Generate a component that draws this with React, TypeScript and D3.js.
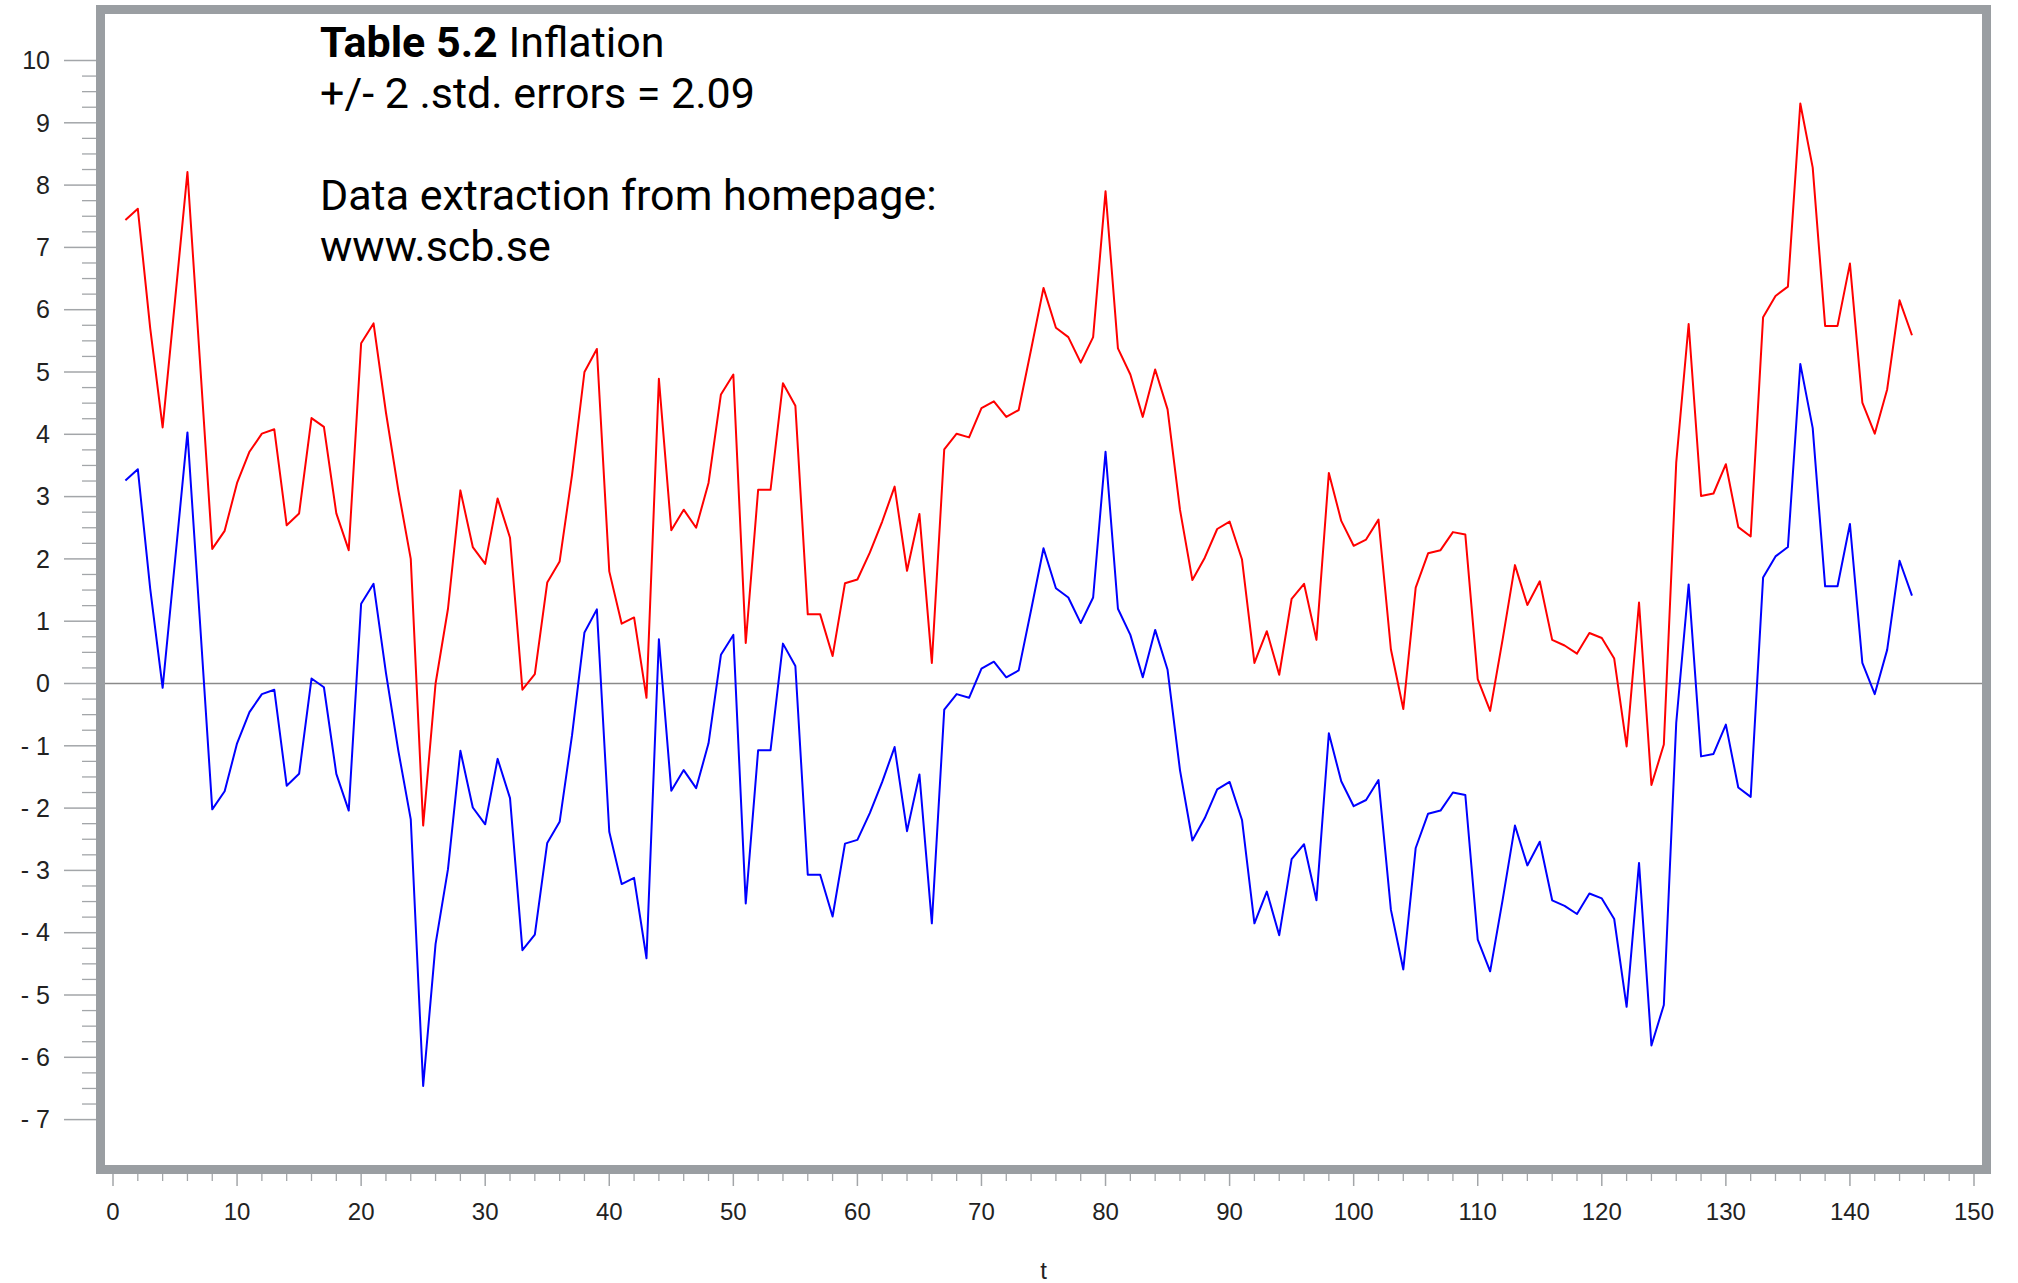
import React from "react";
import * as d3 from "d3";

// Monthly inflation (percent), t = 1..145
const inflation: number[] = [
  5.35, 5.53, 3.61, 2.02, 4.06, 6.12, 3.11, 0.07, 0.36, 1.13,
  1.63, 1.92, 1.99, 0.45, 0.64, 2.17, 2.03, 0.64, 0.05, 3.37,
  3.69, 2.26, 1.01, -0.09, -4.37, -2.09, -0.89, 1.01, 0.10, -0.17,
  0.88, 0.25, -2.19, -1.94, -0.47, -0.13, 1.26, 2.91, 3.28, -0.29,
  -1.13, -1.03, -2.32, 2.80, 0.37, 0.70, 0.41, 1.13, 2.55, 2.87,
  -1.44, 1.02, 1.02, 2.73, 2.37, -0.98, -0.98, -1.65, -0.48, -0.42,
  0.01, 0.51, 1.07, -0.28, 0.63, -1.76, 1.67, 1.92, 1.86, 2.33,
  2.44, 2.19, 2.30, 3.27, 4.26, 3.62, 3.47, 3.06, 3.47, 5.81,
  3.29, 2.87, 2.19, 2.95, 2.31, 0.70, -0.43, -0.07, 0.39, 0.51,
  -0.10, -1.76, -1.25, -1.95, -0.73, -0.49, -1.39, 1.29, 0.52, 0.12,
  0.22, 0.54, -1.54, -2.50, -0.55, 0.00, 0.05, 0.34, 0.30, -2.02,
  -2.53, -1.39, -0.19, -0.83, -0.45, -1.39, -1.48, -1.61, -1.28, -1.36,
  -1.69, -3.10, -0.79, -3.72, -3.07, 1.46, 3.68, 0.92, 0.96, 1.43,
  0.42, 0.27, 3.79, 4.13, 4.28, 7.22, 6.19, 3.65, 3.65, 4.65,
  2.42, 1.92, 2.63, 4.06, 3.50,
];

// Two standard errors of the estimate
const TWO_STD_ERR = 2.09;

const xMajorTicks = [0, 10, 20, 30, 40, 50, 60, 70, 80, 90, 100, 110, 120, 130, 140, 150];
const yMajorTicks = [-7, -6, -5, -4, -3, -2, -1, 0, 1, 2, 3, 4, 5, 6, 7, 8, 9, 10];

const W = 2018;
const H = 1283;
const frame = { left: 105, top: 14, right: 1982, bottom: 1165 };
const BORDER = 9;
const GRAY = "#9a9ea2";
const TICK = "#a3a6a9";
const FONT = "'Liberation Sans', Arial, sans-serif";

export default function App() {
  const x = d3.scaleLinear().domain([0, 150]).range([113, 1974]);
  const y = d3.scaleLinear().domain([0, 10]).range([683.5, 60.5]);

  const xMinor = d3.range(0, 151, 2).filter((v) => v % 10 !== 0);
  const yMinor = d3.range(-7, 10.001, 0.25).filter((v) => Math.abs(v - Math.round(v)) > 1e-6);

  const band = (offset: number) =>
    d3
      .line<number>()
      .x((_, i) => x(i + 1))
      .y((d) => y(d + offset))(inflation) ?? "";

  return (
    <svg
      width={W}
      height={H}
      style={{ position: "absolute", left: 0, top: 0, background: "#fff" }}
      xmlns="http://www.w3.org/2000/svg"
    >
      <rect x={0} y={0} width={W} height={H} fill="#fff" />

      {/* zero reference line */}
      <line
        x1={frame.left}
        x2={frame.right}
        y1={y(0)}
        y2={y(0)}
        stroke="#8a8a8a"
        strokeWidth={1.5}
      />

      {/* upper and lower bands */}
      <path d={band(TWO_STD_ERR)} fill="none" stroke="#ff0000" strokeWidth={2} strokeLinejoin="round" />
      <path d={band(-TWO_STD_ERR)} fill="none" stroke="#0000ff" strokeWidth={2} strokeLinejoin="round" />

      {/* frame */}
      <rect
        x={frame.left - BORDER / 2}
        y={frame.top - BORDER / 2}
        width={frame.right - frame.left + BORDER}
        height={frame.bottom - frame.top + BORDER}
        fill="none"
        stroke={GRAY}
        strokeWidth={BORDER}
      />

      {/* y axis ticks and labels */}
      {yMinor.map((v) => (
        <line key={"ym" + v} x1={82} x2={frame.left - BORDER} y1={y(v)} y2={y(v)} stroke={TICK} strokeWidth={1.3} />
      ))}
      {yMajorTicks.map((v) => (
        <g key={"yM" + v}>
          <line x1={64} x2={frame.left - BORDER} y1={y(v)} y2={y(v)} stroke={TICK} strokeWidth={1.5} />
          <text
            x={50}
            y={y(v)}
            dy="0.35em"
            textAnchor="end"
            fontFamily={FONT}
            fontSize={25}
            fill="#222"
          >
            {v < 0 ? "- " + Math.abs(v) : String(v)}
          </text>
        </g>
      ))}

      {/* x axis ticks and labels */}
      {xMinor.map((v) => (
        <line key={"xm" + v} x1={x(v)} x2={x(v)} y1={frame.bottom + BORDER} y2={frame.bottom + BORDER + 7} stroke={TICK} strokeWidth={1.3} />
      ))}
      {xMajorTicks.map((v) => (
        <g key={"xM" + v}>
          <line x1={x(v)} x2={x(v)} y1={frame.bottom + BORDER} y2={frame.bottom + BORDER + 12} stroke={TICK} strokeWidth={1.5} />
          <text
            x={x(v)}
            y={1212}
            dy="0.35em"
            textAnchor="middle"
            fontFamily={FONT}
            fontSize={24}
            fill="#222"
          >
            {v}
          </text>
        </g>
      ))}
      <text x={x(75)} y={1271} dy="0.35em" textAnchor="middle" fontFamily={FONT} fontSize={24} fill="#222">
        t
      </text>

      {/* annotation */}
      <g fontFamily="Roboto, 'Noto Sans', sans-serif" fontSize={43} fill="#000">
        <text x={320} y={57}>
          <tspan fontWeight="bold">Table 5.2</tspan>
          <tspan> Inflation</tspan>
        </text>
        <text x={320} y={108}>+/- 2 .std. errors = 2.09</text>
        <text x={320} y={210}>Data extraction from homepage:</text>
        <text x={320} y={261}>www.scb.se</text>
      </g>
    </svg>
  );
}
